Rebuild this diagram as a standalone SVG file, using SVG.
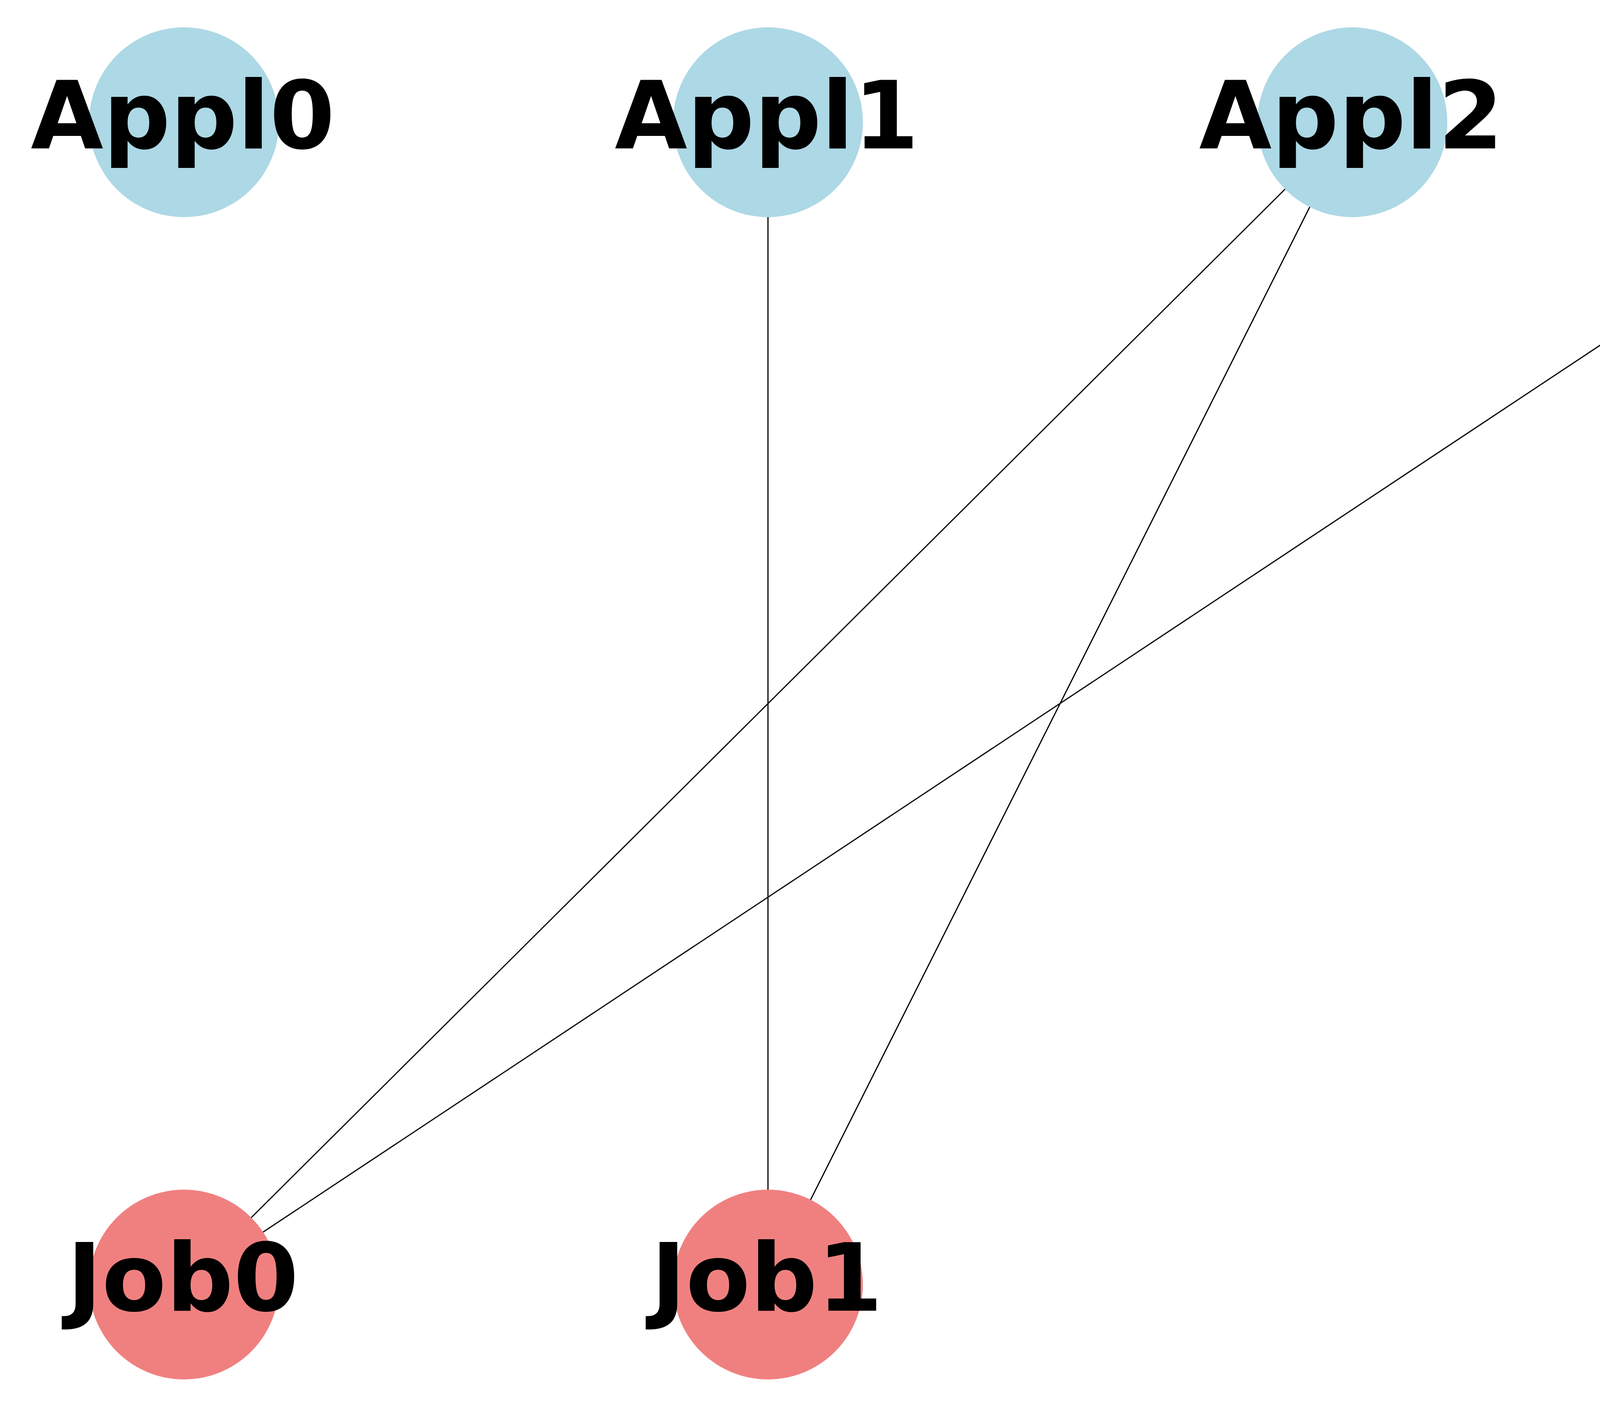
<svg xmlns="http://www.w3.org/2000/svg" width="5400" height="3600" viewBox="0 0 5400 3600">
<style>
.edge{stroke:#000;stroke-width:3;fill:none}
.appl{fill:#ADD8E6}
.job{fill:#F08080}
.lbl{font-family:"DejaVu Sans","Liberation Sans",sans-serif;font-weight:bold;font-size:240px;fill:#000;text-anchor:middle}
</style>
<rect width="5400" height="3600" fill="#fff"/>
<g id="edges">
<line class="edge" x1="1966" y1="313" x2="1966" y2="3289"/>
<line class="edge" x1="3462" y1="313" x2="471" y2="3289"/>
<line class="edge" x1="3462" y1="313" x2="1966" y2="3289"/>
<line class="edge" x1="4957" y1="313" x2="471" y2="3289"/>
</g>
<g id="Appl0"><circle class="appl" cx="471" cy="313" r="243"/><text class="lbl" x="468" y="380">Appl0</text></g>
<g id="Appl1"><circle class="appl" cx="1966" cy="313" r="243"/><text class="lbl" x="1963" y="380">Appl1</text></g>
<g id="Appl2"><circle class="appl" cx="3462" cy="313" r="243"/><text class="lbl" x="3459" y="380">Appl2</text></g>
<g id="Appl3"><circle class="appl" cx="4957" cy="313" r="243"/><text class="lbl" x="4954" y="380">Appl3</text></g>
<g id="Job0"><circle class="job" cx="471" cy="3289" r="243"/><text class="lbl" x="468" y="3356">Job0</text></g>
<g id="Job1"><circle class="job" cx="1966" cy="3289" r="243"/><text class="lbl" x="1963" y="3356">Job1</text></g>
</svg>
